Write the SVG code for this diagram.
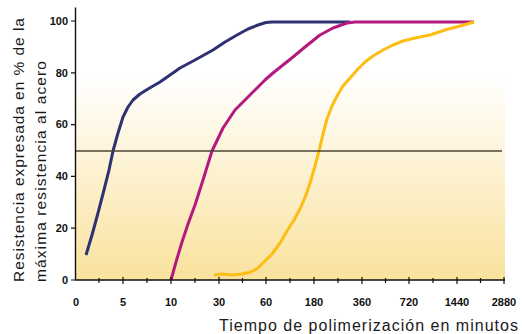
<svg xmlns="http://www.w3.org/2000/svg" width="522" height="334" viewBox="0 0 522 334">
<defs>
<linearGradient id="bg" x1="0" y1="0" x2="0" y2="280" gradientUnits="userSpaceOnUse">
<stop offset="0" stop-color="#ffffff"/>
<stop offset="0.27" stop-color="#ffffff"/>
<stop offset="1" stop-color="#fae29d"/>
</linearGradient>
</defs>
<style>
.ax{stroke:#111;stroke-width:1.4;fill:none}
.tk{stroke:#111;stroke-width:1.2}
.lbl{font-family:"Liberation Sans",Arial,sans-serif;font-weight:bold;font-size:11px;fill:#111}
.ttl{font-family:"Liberation Sans",Arial,sans-serif;font-size:16px;fill:#1a1a1a}
.crv{fill:none;stroke-width:3;stroke-linejoin:round;stroke-linecap:butt}
</style>
<rect x="75" y="0" width="430" height="280" fill="url(#bg)"/>
<g id="curves">
<path class="crv" stroke="#2e3172" d="M86,255 L92,235 L98,213 L104,190 L109,170 L113,151 L118,133 L123,117 L128,107 L133,100 L140,94 L148,89 L160,82 L170,75 L180,68 L195,60 L213,50 L225,42 L237,35 L248,29 L258,25 L266,22.5 L272,22 L350,22"/>
<path class="crv" stroke="#b4197f" d="M171,280 L176,262 L182,242 L188,224 L195,205 L203,180 L212,151 L223,128 L235,110 L246,99 L257,88 L265,80 L273,73 L283,65 L293,57 L305,47 L320,35 L333,28 L347,23 L355,22 L474,22"/>
<path class="crv" stroke="#fdbd14" d="M214,275 L222,274 L232,275 L242,274 L251,272 L258,268 L264,262 L272,254 L280,243 L287,231 L294,220 L300,209 L306,195 L311,180 L315,166 L319,151 L323,134 L327,119 L332,106 L337,96 L343,86 L350,78 L358,69 L365,62 L373,56 L383,50 L393,45 L403,41 L415,38 L430,35 L445,30 L460,26 L474,22"/>
</g>
<line x1="75" y1="151" x2="502" y2="151" stroke="#4d4436" stroke-width="1.3"/>
<g id="axes">
<path class="ax" d="M75.5,7.5 V280 H505"/>
<path class="tk" d="M71,21H75M71,72.8H75M71,124.6H75M71,176.4H75M71,228.2H75M71,280H75"/>
<path class="tk" d="M123,277V284M171,277V284M219,277V284M266,277V284M314,277V284M362,277V284M409,277V284M457,277V284M504,277V284M99,278V283M147,278V283M195,278V283M242.5,278V283M290,278V283M338,278V283M385.5,278V283M433,278V283M480.5,278V283"/>
</g>
<g id="ylabels" class="lbl" text-anchor="end">
<text x="68" y="24.8">100</text>
<text x="68" y="76.6">80</text>
<text x="68" y="128.4">60</text>
<text x="68" y="180.2">40</text>
<text x="68" y="232">20</text>
<text x="68" y="283.8">0</text>
</g>
<g id="xlabels" class="lbl" text-anchor="middle">
<text x="76" y="306">0</text>
<text x="123" y="306">5</text>
<text x="171" y="306">10</text>
<text x="219" y="306">30</text>
<text x="266" y="306">60</text>
<text x="314" y="306">180</text>
<text x="362" y="306">360</text>
<text x="409" y="306">720</text>
<text x="457" y="306">1440</text>
<text x="504" y="306">2880</text>
</g>
<text class="ttl" x="219" y="331" textLength="299" lengthAdjust="spacing">Tiempo de polimerización en minutos</text>
<g class="ttl">
<text transform="translate(24,282) rotate(-90)" x="0" y="0" textLength="264" lengthAdjust="spacing" style="font-size:15.5px">Resistencia expresada en % de la</text>
<text transform="translate(46,282) rotate(-90)" x="0" y="0" textLength="221" lengthAdjust="spacing" style="font-size:15.5px">máxima resistencia al acero</text>
</g>
</svg>
